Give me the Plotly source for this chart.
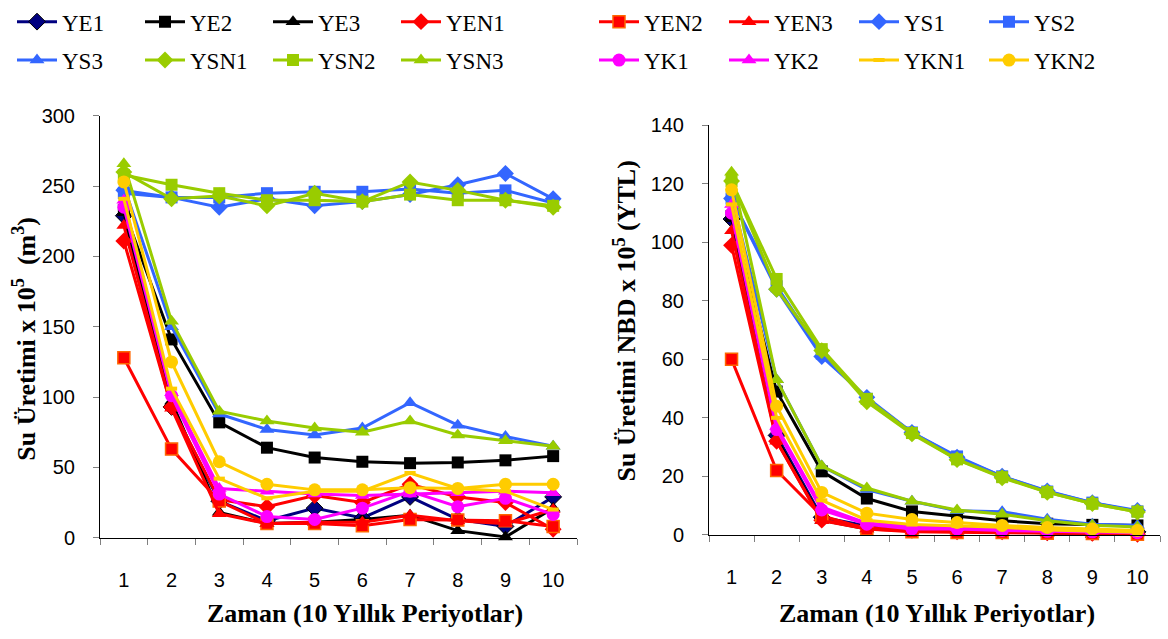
import plotly.graph_objects as go

# Periods (10-year blocks)
periods = [1, 2, 3, 4, 5, 6, 7, 8, 9, 10]
period_labels = ["1", "2", "3", "4", "5", "6", "7", "8", "9", "10"]

series_names = ["YE1", "YE2", "YE3", "YEN1", "YEN2", "YEN3", "YS1", "YS2",
                "YS3", "YSN1", "YSN2", "YSN3", "YK1", "YK2", "YKN1", "YKN2"]

# Water yield, x 10^5 m3
q_YE1 = [229, 93, 26, 12, 21, 14, 29, 13, 8, 29]
q_YE2 = [233, 141, 82, 64, 57, 54, 53, 53.5, 55, 58]
q_YE3 = [231, 97, 18, 10, 11, 13, 16, 5, 0.5, 21]
q_YEN1 = [211, 93, 27, 22, 30, 25, 38, 29, 25, 6]
q_YEN2 = [128, 63, 26, 10, 10, 8.5, 13, 12.5, 12, 8]
q_YEN3 = [222, 92, 17, 10, 11, 11, 16, 12, 10, 20]
q_YS1 = [247, 242, 235, 241, 236, 239, 244, 251, 259, 241]
q_YS2 = [245, 242, 242, 245, 246, 246, 248, 245, 247, 238]
q_YS3 = [250, 150, 88, 77, 73, 78, 96, 80, 72, 65]
q_YSN1 = [260, 241, 243, 236, 245, 239, 253, 247, 240, 235]
q_YSN2 = [258, 251, 245, 240, 240, 239, 244, 240, 240, 236]
q_YSN3 = [266, 154, 90, 83, 78, 75, 83, 73, 69, 65]
q_YK1 = [235, 101, 31, 15, 13, 21, 33, 22, 28, 16.5]
q_YK2 = [240, 103, 35, 33, 31, 30, 31, 32, 33, 32]
q_YKN1 = [241, 106, 42, 28, 33, 33, 46, 35, 33, 20]
q_YKN2 = [253, 125, 54, 38, 34, 34, 35.5, 35, 38, 38]

# Net present value of water yield, x 10^5 YTL
v_YE1 = [108, 34, 6, 3, 2, 1.5, 1.5, 1, 0.8, 1]
v_YE2 = [109, 49, 21.7, 12.4, 8, 6.4, 4.8, 3.8, 3.4, 3.2]
v_YE3 = [108.5, 33, 5, 2, 1.7, 1.5, 1.5, 0.6, 0.1, 0.7]
v_YEN1 = [99, 32, 5, 2.5, 1.5, 1, 1, 0.7, 0.5, 0.2]
v_YEN2 = [60, 22, 6.5, 2, 1, 0.8, 0.8, 0.5, 0.4, 0.2]
v_YEN3 = [104, 32, 4.8, 2, 1.3, 1.2, 1.2, 0.6, 0.5, 0.6]
v_YS1 = [115, 84, 61, 47, 35, 26.5, 20, 15, 11, 8.3]
v_YS2 = [115, 85, 62, 46.5, 35, 26.8, 20, 14.8, 11, 8]
v_YS3 = [116, 53, 23.5, 15.5, 11.5, 8.2, 7.9, 5.3, 3.6, 3.3]
v_YSN1 = [121, 84, 63, 45.5, 34.5, 25.7, 19.5, 14.5, 10.7, 7.8]
v_YSN2 = [121, 87.5, 63.5, 46.5, 34.8, 25.8, 19.7, 14.6, 10.6, 7.9]
v_YSN3 = [124, 53, 23.5, 16, 11.5, 8.5, 7, 4.8, 3.3, 2.7]
v_YK1 = [110, 36, 8.5, 3.6, 2, 2, 1.5, 1.2, 1, 0.7]
v_YK2 = [113, 37, 9.5, 4, 2.8, 2.5, 2.1, 1.6, 1.4, 1.0]
v_YKN1 = [113, 40, 11.8, 5, 3.5, 3, 2.6, 1.6, 1.3, 0.9]
v_YKN2 = [118, 44, 14.5, 7.4, 5.2, 4.2, 3.2, 2.5, 2, 1.5]

left_values = [q_YE1, q_YE2, q_YE3, q_YEN1, q_YEN2, q_YEN3, q_YS1, q_YS2,
               q_YS3, q_YSN1, q_YSN2, q_YSN3, q_YK1, q_YK2, q_YKN1, q_YKN2]
right_values = [v_YE1, v_YE2, v_YE3, v_YEN1, v_YEN2, v_YEN3, v_YS1, v_YS2,
                v_YS3, v_YSN1, v_YSN2, v_YSN3, v_YK1, v_YK2, v_YKN1, v_YKN2]

NAVY, BLACK, RED = "#000080", "#000000", "#FF0000"
BLUE, GREEN, MAGENTA, GOLD = "#3366FF", "#99CC00", "#FF00FF", "#FFCC00"

styles = {
    "YE1": dict(color=NAVY, symbol="diamond", size=13, edge=BLACK, edge_w=1),
    "YE2": dict(color=BLACK, symbol="square", size=12, edge=BLACK, edge_w=0),
    "YE3": dict(color=BLACK, symbol="triangle-up", size=13, edge=BLACK, edge_w=0),
    "YEN1": dict(color=RED, symbol="diamond", size=13, edge=RED, edge_w=0),
    "YEN2": dict(color=RED, symbol="square", size=12, edge="#FF6600", edge_w=1.5),
    "YEN3": dict(color=RED, symbol="triangle-up", size=13, edge=RED, edge_w=0),
    "YS1": dict(color=BLUE, symbol="diamond", size=13, edge=BLUE, edge_w=0),
    "YS2": dict(color=BLUE, symbol="square", size=12, edge=BLUE, edge_w=0),
    "YS3": dict(color=BLUE, symbol="triangle-up", size=13, edge=BLUE, edge_w=0),
    "YSN1": dict(color=GREEN, symbol="diamond", size=13, edge=GREEN, edge_w=0),
    "YSN2": dict(color=GREEN, symbol="square", size=12, edge=GREEN, edge_w=0),
    "YSN3": dict(color=GREEN, symbol="triangle-up", size=13, edge=GREEN, edge_w=0),
    "YK1": dict(color=MAGENTA, symbol="circle", size=13, edge=MAGENTA, edge_w=0),
    "YK2": dict(color=MAGENTA, symbol="triangle-up", size=13, edge=MAGENTA, edge_w=0),
    "YKN1": dict(color=GOLD, symbol="line-ew", size=8, edge=GOLD, edge_w=4),
    "YKN2": dict(color=GOLD, symbol="circle", size=13, edge=GOLD, edge_w=0),
}

legend_groups = {
    "YE1": "legend", "YE2": "legend", "YE3": "legend", "YEN1": "legend",
    "YEN2": "legend2", "YEN3": "legend2", "YS1": "legend2", "YS2": "legend2",
    "YS3": "legend3", "YSN1": "legend3", "YSN2": "legend3", "YSN3": "legend3",
    "YK1": "legend4", "YK2": "legend4", "YKN1": "legend4", "YKN2": "legend4",
}

W, H = 1168, 639

fig = go.Figure()


def add_series(name, ys, xaxis, yaxis, show):
    st = styles[name]
    fig.add_trace(go.Scatter(
        x=periods, y=ys, name=name, mode="lines+markers",
        xaxis=xaxis, yaxis=yaxis, legendgroup=name, showlegend=show,
        legend=legend_groups[name], cliponaxis=False,
        line=dict(color=st["color"], width=3),
        marker=dict(symbol=st["symbol"], size=st["size"], color=st["color"],
                    line=dict(color=st["edge"], width=st["edge_w"])),
    ))


for name, ys in zip(series_names, left_values):
    add_series(name, ys, "x", "y", True)
for name, ys in zip(series_names, right_values):
    add_series(name, ys, "x2", "y2", False)

tick_font = dict(family="Liberation Sans, Arial", size=20, color="black")
serif_bold = dict(family="Liberation Serif, Times New Roman", size=26,
                  color="black", weight="bold")
legend_font = dict(family="Liberation Serif, Times New Roman", size=23, color="black")


def px_x(p):
    return p / W


def px_y(p):
    return 1 - p / H


x_common = dict(
    range=[0.5, 10.5], tickmode="array", tickvals=periods, ticktext=period_labels,
    ticks="", showline=True, linecolor="black", linewidth=1, showgrid=False,
    zeroline=False, tickfont=tick_font, ticklabelstandoff=24,
    minor=dict(tickmode="linear", tick0=0.5, dtick=1, ticks="outside",
               ticklen=6, tickcolor="#808080", showgrid=False),
)
y_common = dict(
    showline=True, linecolor="black", linewidth=1, showgrid=False, zeroline=False,
    ticks="outside", ticklen=6, tickcolor="#808080", tickfont=tick_font,
    ticklabelstandoff=14,
)

legend_common = dict(
    orientation="h", font=legend_font, bgcolor="rgba(0,0,0,0)",
    itemwidth=40, xanchor="left", yanchor="middle",
    itemclick=False, traceorder="normal",
)

fig.update_layout(
    width=W, height=H,
    margin=dict(l=0, r=0, t=0, b=0),
    paper_bgcolor="white", plot_bgcolor="white",
    xaxis=dict(domain=[px_x(100), px_x(577)], anchor="y", **x_common),
    yaxis=dict(domain=[px_y(545), px_y(106)], range=[0, 300], tick0=0, dtick=50,
               anchor="x", **y_common),
    xaxis2=dict(domain=[px_x(709), px_x(1160)], anchor="y2", **x_common),
    yaxis2=dict(domain=[px_y(542), px_y(116)], range=[0, 140], tick0=0, dtick=20,
                anchor="x2", **y_common),
    legend=dict(x=px_x(12), y=px_y(8), entrywidth=73, **legend_common),
    legend2=dict(x=px_x(594), y=px_y(8), entrywidth=75, **legend_common),
    legend3=dict(x=px_x(12), y=px_y(48), entrywidth=73, **legend_common),
    legend4=dict(x=px_x(594), y=px_y(48), entrywidth=75, **legend_common),
    showlegend=True,
)

annotations = [
    dict(text="Zaman (10 Yıllık Periyotlar)", x=px_x(365), y=px_y(624),
         textangle=0),
    dict(text="Zaman (10 Yıllık Periyotlar)", x=px_x(937), y=px_y(624),
         textangle=0),
    dict(text="Su Üretimi x 10<sup>5</sup>\u00a0 (m<sup>3</sup>)",
         x=px_x(25), y=px_y(338), textangle=-90),
    dict(text="Su Üretimi NBD x 10<sup>5</sup> (YTL)",
         x=px_x(625), y=px_y(320), textangle=-90),
]
for a in annotations:
    fig.add_annotation(xref="paper", yref="paper", showarrow=False,
                       xanchor="center", yanchor="middle", font=serif_bold, **a)

fig.write_html("out.html")
